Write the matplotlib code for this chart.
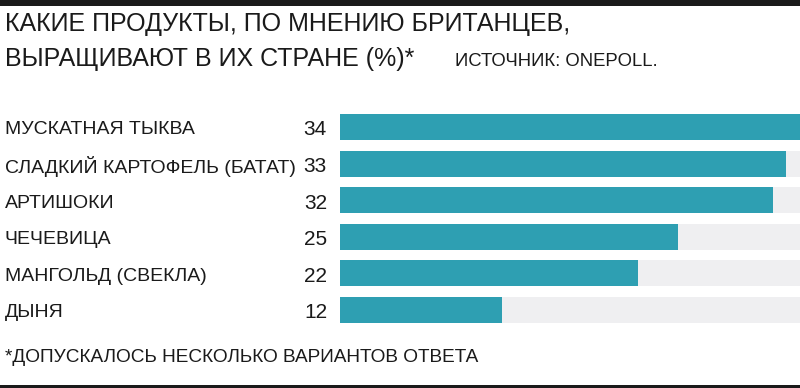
import matplotlib.pyplot as plt
from matplotlib.transforms import blended_transform_factory

plt.rcParams['font.family'] = ['Liberation Sans', 'DejaVu Sans']

products = ["МУСКАТНАЯ ТЫКВА", "СЛАДКИЙ КАРТОФЕЛЬ (БАТАТ)", "АРТИШОКИ",
            "ЧЕЧЕВИЦА", "МАНГОЛЬД (СВЕКЛА)", "ДЫНЯ"]
values = [34, 33, 32, 25, 22, 12]
max_value = 34

title_1 = "КАКИЕ ПРОДУКТЫ, ПО МНЕНИЮ БРИТАНЦЕВ,"
title_2 = "ВЫРАЩИВАЮТ В ИХ СТРАНЕ (%)*"
source = "ИСТОЧНИК: ONEPOLL."
note = "*ДОПУСКАЛОСЬ НЕСКОЛЬКО ВАРИАНТОВ ОТВЕТА"

W, H = 800, 388
fig = plt.figure(figsize=(W / 100, H / 100), dpi=100)

# black rules top and bottom
fig.add_artist(plt.Rectangle((0, 1 - 6 / H), 1, 6 / H, transform=fig.transFigure,
                             color="#1a1a1a", lw=0))
fig.add_artist(plt.Rectangle((0, 0), 1, 3 / H, transform=fig.transFigure,
                             color="#1a1a1a", lw=0))

top, bottom = 108.7, 328.3
ax = fig.add_axes([340 / W, 1 - bottom / H, 460 / W, (bottom - top) / H])
ypos = list(range(len(products)))
ax.barh(ypos, [max_value] * len(values), height=0.71, color="#efeff1", lw=0)
ax.barh(ypos, values, height=0.71, color="#2e9fb2", lw=0)
ax.set_xlim(0, max_value)
ax.set_ylim(len(products) - 0.5, -0.5)
ax.axis("off")

tr = blended_transform_factory(fig.transFigure, ax.transData)
for y, name, v in zip(ypos, products, values):
    ax.text(5 / W, y + 0.08, name, transform=tr, ha="left", va="center",
            fontsize=14, color="#1a1a1a")
    ax.text(327 / W, y + 0.08, str(v), transform=tr, ha="right", va="center",
            fontsize=15, color="#1a1a1a")

fig.text(5 / W, 1 - 24 / H, title_1, ha="left", va="center", fontsize=18,
         color="#1a1a1a")
fig.text(5 / W, 1 - 59 / H, title_2, ha="left", va="center", fontsize=18,
         color="#1a1a1a")
fig.text(455 / W, 1 - 61 / H, source, ha="left", va="center", fontsize=13.3,
         color="#1a1a1a")
fig.text(5 / W, 1 - 357 / H, note, ha="left", va="center", fontsize=13.7,
         color="#1a1a1a")

fig.savefig("out.png", dpi=100)
